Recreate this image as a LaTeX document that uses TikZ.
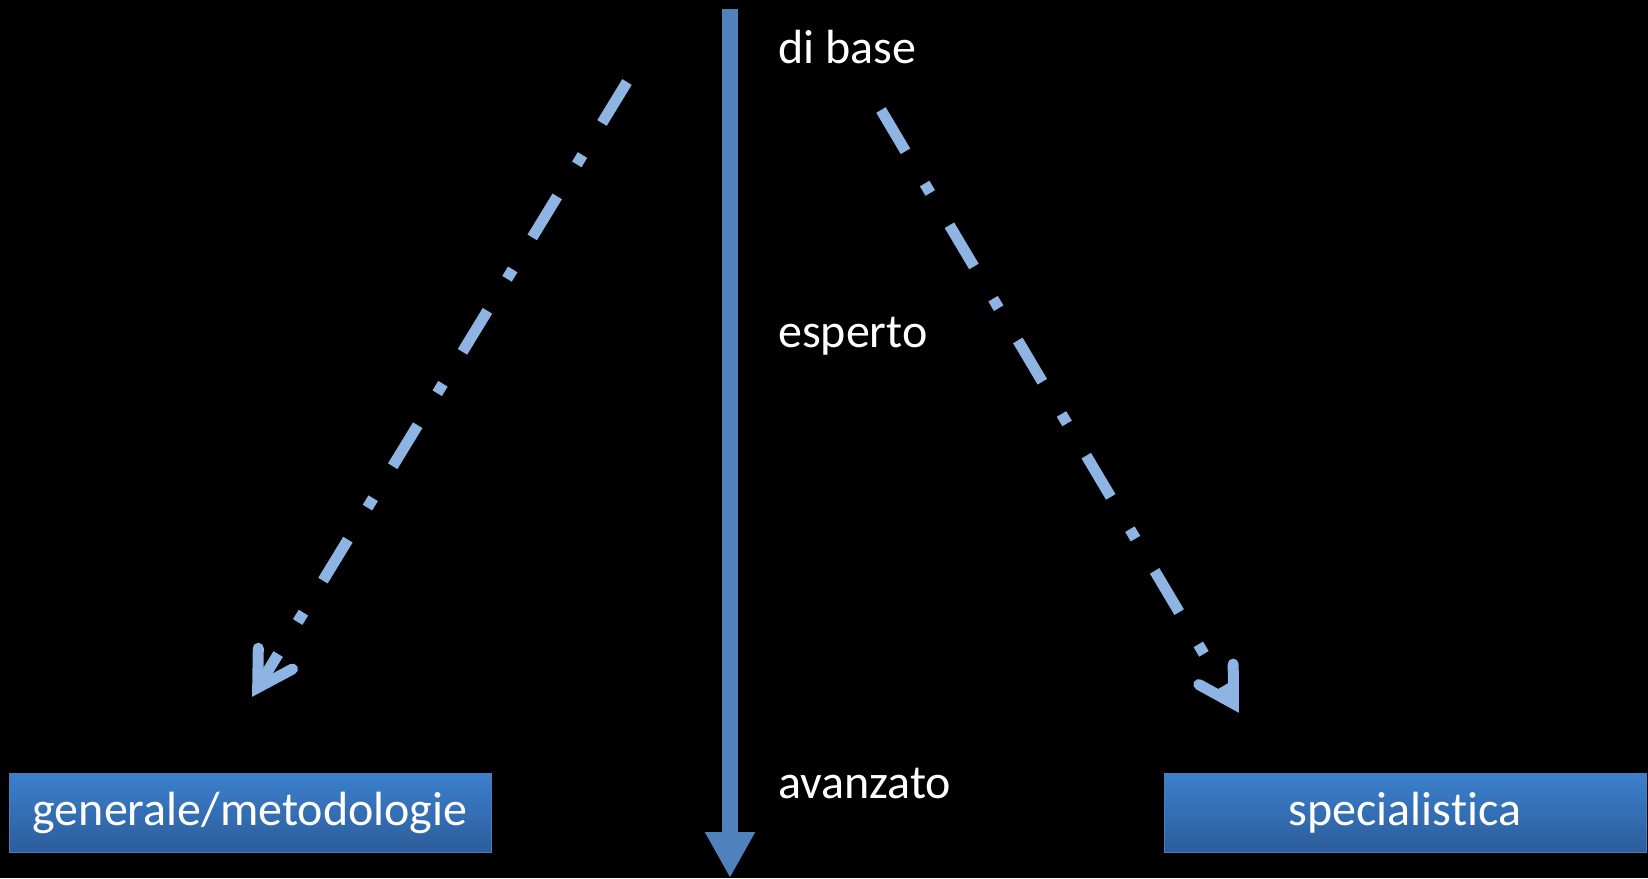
\documentclass[tikz,border=0pt]{standalone}
\usepackage{fontspec}
\setmainfont{Carlito}[Ligatures=NoCommon]
\usetikzlibrary{arrows.meta}
\definecolor{mainblue}{RGB}{79,129,189}
\definecolor{lightblue}{RGB}{141,180,227}
\definecolor{boxtop}{RGB}{60,128,205}
\definecolor{boxbot}{RGB}{44,93,155}
\definecolor{boxline}{RGB}{74,126,187}
\tikzset{
  bigfont/.style={font=\fontsize{48}{57}\selectfont},
  levellabel/.style={bigfont, text=white, inner sep=0pt, anchor=base west},
  catbox/.style={bigfont, text=white, draw=boxline, line width=1pt, top color=boxtop, bottom color=boxbot,
     minimum width=482pt, minimum height=79pt, inner sep=0pt},
  dashline/.style={draw=lightblue, line width=11pt, line cap=butt,
     dash pattern=on 48pt off 37.5pt on 11pt off 37.5pt},
  openhead/.style={draw=lightblue, line width=11pt, line cap=round, line join=miter},
  mainarrow/.style={draw=mainblue, line width=16pt, -{Triangle[width=47pt,length=46pt]}, fill=mainblue}
}
\begin{document}
\begin{tikzpicture}[x=1pt,y=-1pt]
  \fill[black] (0,0) rectangle (1648,878);
  \useasboundingbox (0,0) rectangle (1648,878);
  % central arrow
  \coordinate (ctop) at (730,9);
  \coordinate (cbot) at (730,878);
  \draw[mainarrow] (ctop) -- (cbot);
  % level labels
  \node[levellabel] (lbase) at (778,63) {di base};
  \node[levellabel] (lesp) at (778,347) {esperto};
  \node[levellabel] (lavz) at (778,798) {avanzato};
  % boxes
  \node[catbox] (gen) at (250,812.5) {generale/metodologie};
  \node[catbox] (spec) at (1405,812.5) {specialistica};
  % left dashed arrow
  \coordinate (ls) at (627,82);
  \coordinate (le) at (257.7,687.6);
  \coordinate (lw1) at (292.5,669.0);
  \coordinate (lw2) at (258.3,648.2);
  \draw[dashline] (ls) -- (le);
  \draw[openhead] (lw1) -- (le) -- (lw2);
  % right dashed arrow
  \coordinate (rs) at (881,110);
  \coordinate (re) at (1233.4,703.5);
  \coordinate (rw1) at (1233.2,664.1);
  \coordinate (rw2) at (1198.8,684.5);
  \draw[dashline] (rs) -- (re);
  \draw[openhead] (rw1) -- (re) -- (rw2);
\end{tikzpicture}
\end{document}
